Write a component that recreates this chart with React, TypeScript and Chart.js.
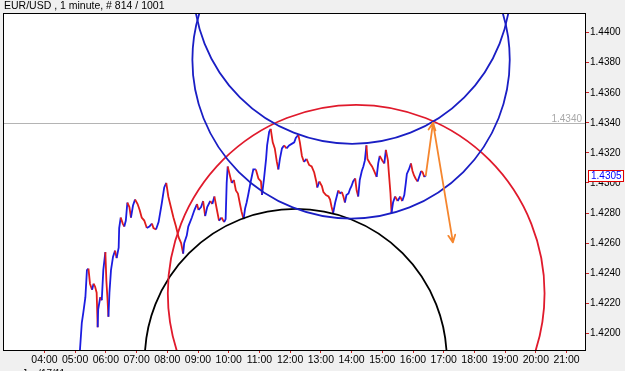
import React, { useEffect, useRef } from "react";
import { Chart, registerables } from "chart.js";

Chart.register(...registerables);

const TITLE = "EUR/USD , 1 minute, # 814 / 1001";
const DATE_LABEL = "Jun/17/11";

// minutes since midnight
const barMinutes = [
  308, 313, 316, 320, 323, 326, 329, 333, 336, 339, 342, 344, 345, 349, 352, 355, 359, 361, 363, 365,
  367, 370, 374, 378, 381, 385, 386, 389, 393, 396, 399, 402, 406, 409, 413, 417, 422, 426, 430, 435,
  440, 445, 450, 453, 458, 463, 469, 474, 478, 482, 487, 492, 497, 502, 507, 511, 513, 518, 521, 528,
  533, 538, 541, 546, 550, 554, 558, 564, 568, 572, 577, 581, 586, 591, 594, 596, 598, 603, 606, 610,
  614, 618, 622, 625, 629, 632, 635, 638, 643, 648, 653, 658, 663, 665, 669, 673, 675, 679, 682, 686,
  690, 694, 697, 700, 704, 708, 713, 718, 723, 728, 731, 736, 739, 743, 747, 752, 757, 762, 767, 771,
  773, 777, 782, 785, 790, 795, 798, 801, 804, 808, 811, 814, 817, 821, 824, 827, 830, 834, 837, 840,
  843, 847, 850, 853, 856, 860, 863, 866, 869, 871, 876, 880, 884, 889, 892, 895, 900, 904, 907, 911,
  913, 916, 918, 921, 925, 930, 935, 939, 943, 946, 948, 952, 956, 959, 962, 965, 969, 972, 976, 979,
  982, 985,
];
const barPrices = [
  1.4182, 1.4207, 1.4214, 1.4224, 1.4242, 1.4243, 1.4233, 1.4229, 1.4233, 1.4231, 1.4227, 1.4204, 1.4216, 1.4224, 1.4222, 1.4242, 1.4254, 1.4235, 1.4224, 1.4211,
  1.4227, 1.4242, 1.4251, 1.4255, 1.425, 1.4257, 1.427, 1.4277, 1.4273, 1.4271, 1.4275, 1.4287, 1.4284, 1.4277, 1.4285, 1.4289, 1.4286, 1.4282, 1.4277, 1.4275,
  1.427, 1.4271, 1.4273, 1.427, 1.4269, 1.4274, 1.4286, 1.4297, 1.43, 1.4291, 1.4284, 1.4277, 1.4271, 1.4264, 1.426, 1.4253, 1.426, 1.4265, 1.4271, 1.4277,
  1.4282, 1.4286, 1.4282, 1.4284, 1.4288, 1.4278, 1.4284, 1.4288, 1.4286, 1.4291, 1.4282, 1.4275, 1.4277, 1.4274, 1.4276, 1.43, 1.4311, 1.4304, 1.43, 1.4302,
  1.4295, 1.4293, 1.4286, 1.4281, 1.4276, 1.4283, 1.4287, 1.4292, 1.4301, 1.4309, 1.4309, 1.4303, 1.4301, 1.4292, 1.4303, 1.4316, 1.4325, 1.4334, 1.4336, 1.4327,
  1.4323, 1.4314, 1.4309, 1.4316, 1.4323, 1.4325, 1.4323, 1.4325, 1.4326, 1.4327, 1.433, 1.4332, 1.4327, 1.4318, 1.4314, 1.4316, 1.4312, 1.4311, 1.4307, 1.4301,
  1.4297, 1.4301, 1.4298, 1.4294, 1.4292, 1.4291, 1.4289, 1.4284, 1.428, 1.4287, 1.4291, 1.4295, 1.4293, 1.4294, 1.4291, 1.4287, 1.4292, 1.4293, 1.4296, 1.4298,
  1.4301, 1.4303, 1.4295, 1.4291, 1.4302, 1.4308, 1.4311, 1.4315, 1.4325, 1.4316, 1.4313, 1.4311, 1.4308, 1.4304, 1.4313, 1.4318, 1.4315, 1.4313, 1.4322, 1.4315,
  1.4306, 1.4293, 1.428, 1.4287, 1.4291, 1.4288, 1.4291, 1.4288, 1.4292, 1.43, 1.4306, 1.4309, 1.4313, 1.4308, 1.4305, 1.4303, 1.4301, 1.4304, 1.4308, 1.4307,
  1.4304, 1.4305,
];

const hourTicks = [
  "04:00", "05:00", "06:00", "07:00", "08:00", "09:00", "10:00", "11:00", "12:00",
  "13:00", "14:00", "15:00", "16:00", "17:00", "18:00", "19:00", "20:00", "21:00",
];
const priceTicks = [1.42, 1.422, 1.424, 1.426, 1.428, 1.43, 1.432, 1.434, 1.436, 1.438, 1.44];
const minuteRange = [161, 1296];
const priceRange = [1.41889, 1.44124];

const levelPrice = 1.434;
const lastPrice = 1.4305;

// orange projection arrows (start, turn, end)
const arrowMinutes = [985, 999, 1038];
const arrowPrices = [1.4305, 1.434, 1.42605];

// circles: centre in (minutes, price), radius in minutes
const circleCenterMinutes = [731, 849, 841, 839];
const circleCenterPrices = [1.41823, 1.42267, 1.44316, 1.43819];
const circleRadiusMinutes = [295, 368, 310, 310];
const circleColors = ["#000000", "#e01a2c", "#1a1ec4", "#1a1ec4"];

const toMinutes = (s: string) => {
  const [h, m] = s.split(":").map(Number);
  return h * 60 + m;
};
const fmtTime = (v: number) => {
  const h = Math.floor(v / 60);
  const m = Math.round(v - h * 60);
  return String(h).padStart(2, "0") + ":" + String(m).padStart(2, "0");
};

const FONT = "'Liberation Sans', Arial, sans-serif";

function drawArrow(ctx: CanvasRenderingContext2D, x0: number, y0: number, x1: number, y1: number) {
  ctx.beginPath();
  ctx.moveTo(x0, y0);
  ctx.lineTo(x1, y1);
  const ang = Math.atan2(y1 - y0, x1 - x0);
  const len = 8;
  const spread = 0.45;
  ctx.moveTo(x1, y1);
  ctx.lineTo(x1 - len * Math.cos(ang - spread), y1 - len * Math.sin(ang - spread));
  ctx.moveTo(x1, y1);
  ctx.lineTo(x1 - len * Math.cos(ang + spread), y1 - len * Math.sin(ang + spread));
  ctx.stroke();
}

const overlayPlugin = {
  id: "overlay",
  beforeDraw(chart: any) {
    const { ctx, chartArea: a, width, height } = chart;
    ctx.save();
    ctx.fillStyle = "#f0f0f0";
    ctx.fillRect(0, 0, width, height);
    ctx.fillStyle = "#ffffff";
    ctx.fillRect(a.left, a.top, a.right - a.left, a.bottom - a.top);
    ctx.restore();
  },
  beforeDatasetsDraw(chart: any) {
    const { ctx, chartArea: a } = chart;
    const ys = chart.scales.y;
    const y = Math.round(ys.getPixelForValue(levelPrice)) + 0.5;
    ctx.save();
    ctx.strokeStyle = "#b4b4b4";
    ctx.lineWidth = 1;
    ctx.beginPath();
    ctx.moveTo(a.left, y);
    ctx.lineTo(a.right, y);
    ctx.stroke();
    ctx.fillStyle = "#a8a8a8";
    ctx.font = "10px " + FONT;
    ctx.textAlign = "right";
    ctx.textBaseline = "alphabetic";
    ctx.fillText(levelPrice.toFixed(4), a.right - 3, y - 1.5);
    ctx.restore();
  },
  afterDatasetsDraw(chart: any) {
    const { ctx, chartArea: a } = chart;
    const xs = chart.scales.x;
    const ys = chart.scales.y;
    ctx.save();
    ctx.beginPath();
    ctx.rect(a.left, a.top, a.right - a.left, a.bottom - a.top);
    ctx.clip();
    for (let i = 0; i < circleCenterMinutes.length; i++) {
      const cx = xs.getPixelForValue(circleCenterMinutes[i]);
      const cy = ys.getPixelForValue(circleCenterPrices[i]);
      const r = xs.getPixelForValue(circleCenterMinutes[i] + circleRadiusMinutes[i]) - cx;
      ctx.strokeStyle = circleColors[i];
      ctx.lineWidth = 1.8;
      ctx.beginPath();
      ctx.arc(cx, cy, r, 0, Math.PI * 2);
      ctx.stroke();
    }
    ctx.strokeStyle = "#f5862e";
    ctx.lineWidth = 1.8;
    ctx.lineCap = "round";
    for (let i = 0; i < arrowMinutes.length - 1; i++) {
      drawArrow(
        ctx,
        xs.getPixelForValue(arrowMinutes[i]),
        ys.getPixelForValue(arrowPrices[i]),
        xs.getPixelForValue(arrowMinutes[i + 1]),
        ys.getPixelForValue(arrowPrices[i + 1])
      );
    }
    ctx.restore();

    ctx.save();
    // plot frame
    ctx.strokeStyle = "#000000";
    ctx.lineWidth = 1;
    ctx.strokeRect(a.left - 0.5, a.top - 0.5, a.right - a.left + 1, a.bottom - a.top + 1);
    // last price box
    const py = ys.getPixelForValue(lastPrice);
    ctx.fillStyle = "#ffffff";
    ctx.fillRect(a.right + 3, Math.round(py) - 5, 35, 11);
    ctx.strokeStyle = "#e00000";
    ctx.strokeRect(a.right + 3.5, Math.round(py) - 4.5, 35, 11);
    ctx.fillStyle = "#0000ff";
    ctx.font = "10px " + FONT;
    ctx.textAlign = "left";
    ctx.textBaseline = "middle";
    ctx.fillText(lastPrice.toFixed(4), a.right + 6, Math.round(py) + 1);
    // title
    ctx.fillStyle = "#000000";
    ctx.font = "10.5px " + FONT;
    ctx.textBaseline = "top";
    ctx.fillText(TITLE, 4, 1);
    ctx.font = "10px " + FONT;
    ctx.fillText(DATE_LABEL, 22, 369);
    ctx.restore();
  },
};

export default function App() {
  const ref = useRef<HTMLCanvasElement | null>(null);
  useEffect(() => {
    if (!ref.current) return;
    const points = barMinutes.map((m, i) => ({ x: m, y: barPrices[i] }));
    const chart = new Chart(ref.current, {
      type: "line",
      data: {
        datasets: [
          {
            data: points,
            borderWidth: 1.8,
            pointRadius: 0,
            tension: 0,
            borderColor: "#1c1ce0",
            segment: {
              borderColor: (c: any) => (c.p1.parsed.y >= c.p0.parsed.y ? "#1c1ce0" : "#e01c1c"),
            },
          },
        ],
      },
      options: {
        animation: false,
        responsive: false,
        events: [],
        layout: { padding: { left: 4, top: 14, right: 0, bottom: 0 } },
        plugins: { legend: { display: false }, tooltip: { enabled: false }, title: { display: false } },
        scales: {
          x: {
            type: "linear",
            min: minuteRange[0],
            max: minuteRange[1],
            afterBuildTicks: (s: any) => {
              s.ticks = hourTicks.map((t) => ({ value: toMinutes(t) }));
            },
            afterFit: (s: any) => {
              s.height = 21;
            },
            ticks: {
              autoSkip: false,
              maxRotation: 0,
              padding: 1,
              color: "#000000",
              font: { family: FONT, size: 10.5 },
              callback: (v: any) => fmtTime(Number(v)),
            },
            grid: { drawOnChartArea: false, drawTicks: true, tickLength: 3, color: "#d02020" },
            border: { display: false },
          },
          y: {
            type: "linear",
            position: "right",
            min: priceRange[0],
            max: priceRange[1],
            afterBuildTicks: (s: any) => {
              s.ticks = priceTicks.map((v) => ({ value: v }));
            },
            afterFit: (s: any) => {
              s.width = 40;
            },
            ticks: {
              padding: 1,
              color: "#000000",
              font: { family: FONT, size: 10 },
              callback: (v: any) => Number(v).toFixed(4),
            },
            grid: { drawOnChartArea: false, drawTicks: true, tickLength: 4, color: "#d02020" },
            border: { display: false },
          },
        },
      },
      plugins: [overlayPlugin],
    });
    return () => chart.destroy();
  }, []);
  return (
    <div style={{ position: "fixed", left: 0, top: 0, width: 625, height: 371 }}>
      <canvas ref={ref} width={625} height={371} style={{ display: "block" }} />
    </div>
  );
}
